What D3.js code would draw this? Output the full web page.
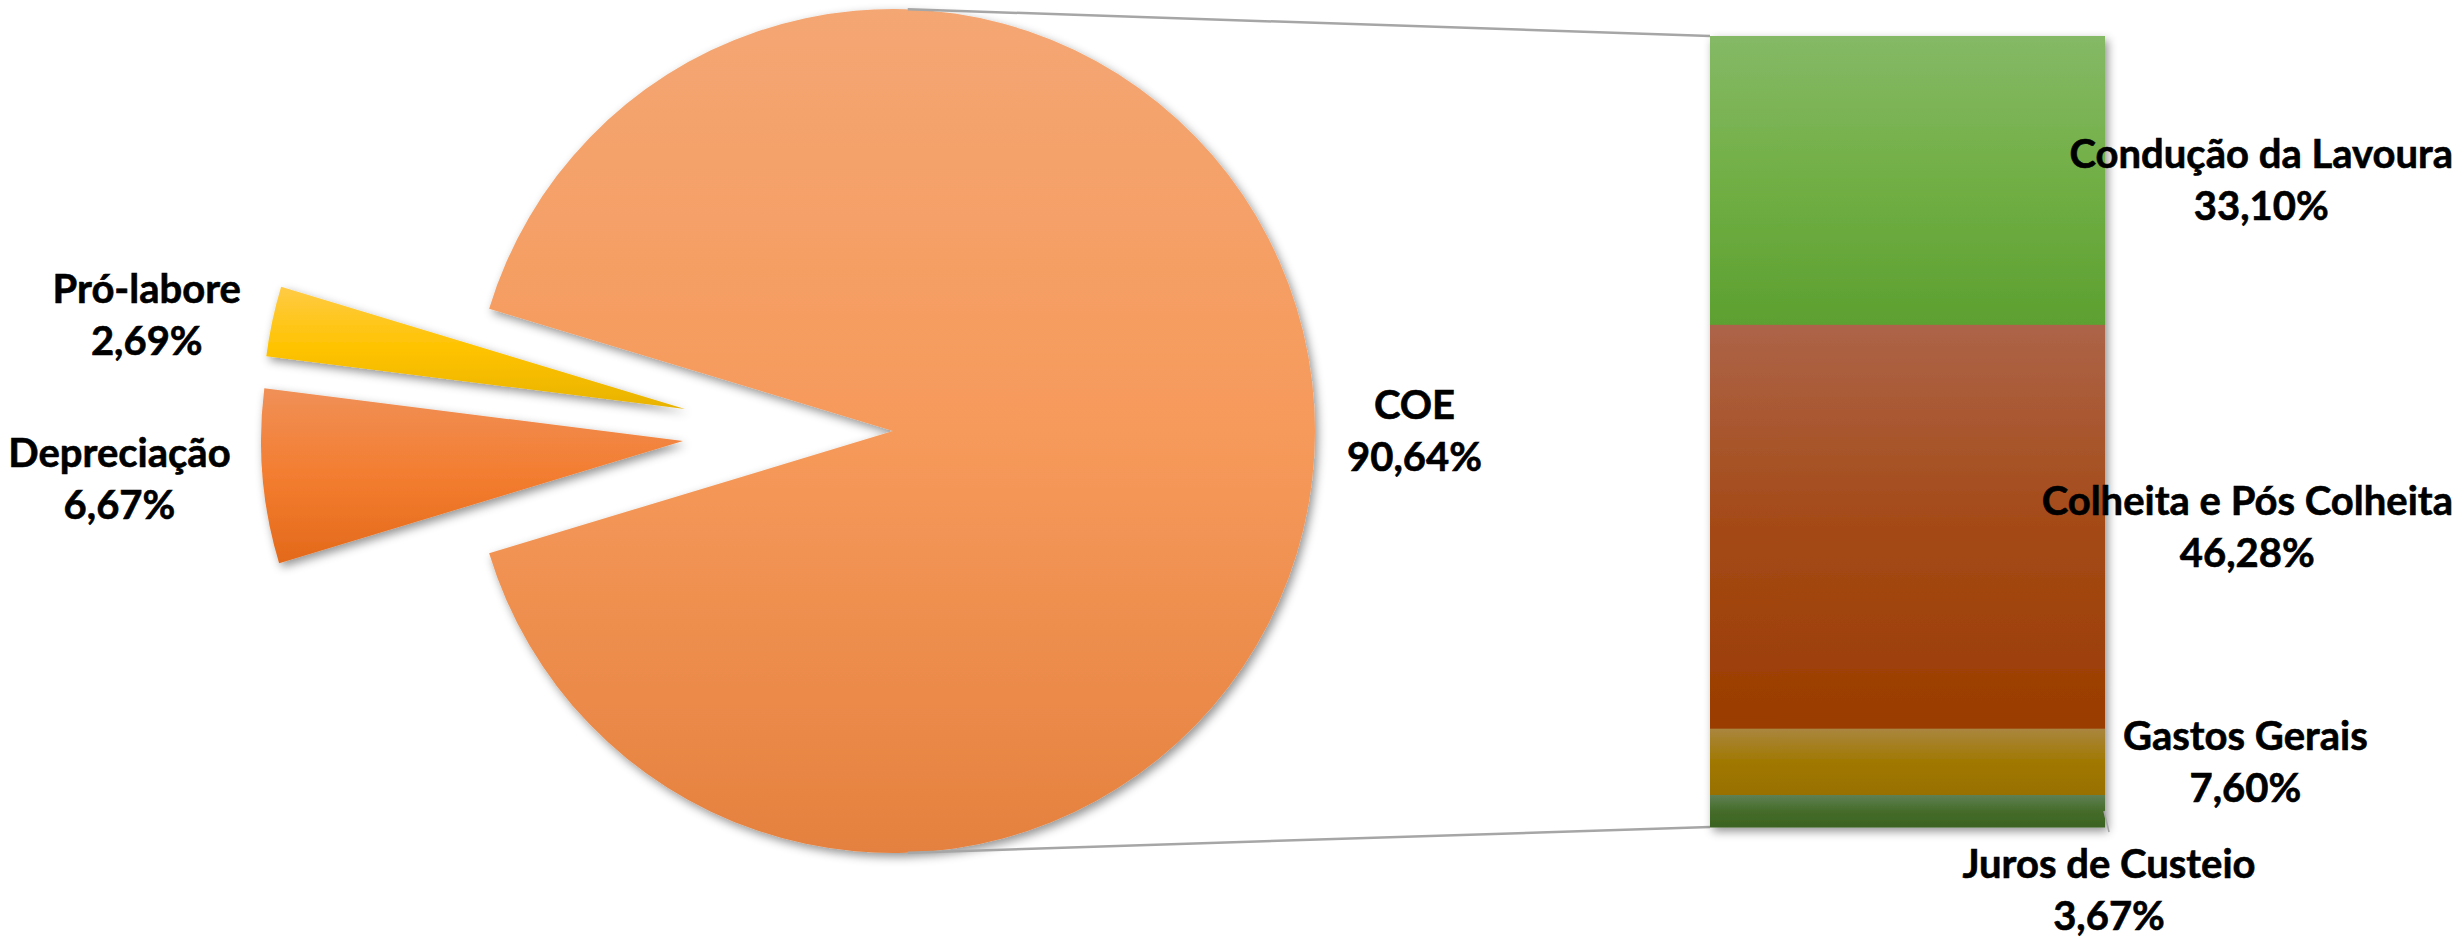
<!DOCTYPE html>
<html>
<head>
<meta charset="utf-8">
<script src="https://cdn.jsdelivr.net/npm/d3@7"></script>
<style>
  html, body { margin: 0; padding: 0; background: #ffffff; overflow: hidden; }
  svg { display: block; }
</style>
</head>
<body>
<svg id="chart" width="2458" height="939"></svg>
<script>
// ---------------- DATA ----------------
const pieCategories = ["COE", "Depreciação", "Pró-labore"];
const pieValues = [90.64, 6.67, 2.69];
const barCategories = ["Condução da Lavoura", "Colheita e Pós Colheita", "Gastos Gerais", "Juros de Custeio"];
const barValues = [33.10, 46.28, 7.60, 3.67];

// ---------------- STYLE / LAYOUT ----------------
const W = 2458, H = 939;
const pieGeom = { cx: 893, cy: 431, r: 422 };
const barGeom = { x0: 1710, x1: 2105, y0: 36, y1: 827 };
const explodeOffsets = { "Pró-labore": [-208, -22], "Depreciação": [-210, 10] };
const pieGradients = {
  "COE":         ["#F4A673", "#F69A5B", "#E5813F"],
  "Depreciação": ["#F09058", "#F37D30", "#E3691A"],
  "Pró-labore":  ["#FFCB45", "#FFC300", "#E8B300"]
};
const barGradients = {
  "Condução da Lavoura":     ["#85B966", "#71AF45", "#5DA030"],
  "Colheita e Pós Colheita": ["#AD6448", "#A44A17", "#9A3C00"],
  "Gastos Gerais":           ["#AA863F", "#A07800", "#987000"],
  "Juros de Custeio":        ["#5F8053", "#456C2A", "#3B6220"]
};
const belowBarLabels = ["Juros de Custeio"];
const connectorColor = "#A6A6A6";
const fontFamily = "Lato, 'Open Sans', 'Liberation Sans', sans-serif";
const fontSize = 40;
const lineH = 52;
const capH = 28;
const labelGap = 32;     // distance between pie edge and label box
const barLabelGap = 18;  // distance between bar edge and label box
const rightLimit = 2453;

const fmtLocale = d3.formatLocale({ decimal: ",", thousands: ".", grouping: [3], currency: ["R$", ""] });
const fmtPct = v => fmtLocale.format(".2f")(v) + "%";

// ---------------- SVG ----------------
const svg = d3.select("#chart").attr("viewBox", `0 0 ${W} ${H}`);
svg.append("rect").attr("width", W).attr("height", H).attr("fill", "#ffffff");
const defs = svg.append("defs");

const shadow = defs.append("filter").attr("id", "shadow")
  .attr("x", "-10%").attr("y", "-10%").attr("width", "125%").attr("height", "125%");
shadow.append("feDropShadow").attr("dx", 3).attr("dy", 4).attr("stdDeviation", 5)
  .attr("flood-color", "#000").attr("flood-opacity", 0.42);

function makeGradient(id, stops) {
  const g = defs.append("linearGradient").attr("id", id)
    .attr("x1", 0).attr("y1", 0).attr("x2", 0).attr("y2", 1);
  [0, 0.5, 1].forEach((o, i) => g.append("stop").attr("offset", o).attr("stop-color", stops[i]));
}
pieCategories.forEach((c, i) => makeGradient("pg" + i, pieGradients[c]));
barCategories.forEach((c, i) => makeGradient("bg" + i, barGradients[c]));

// ---------------- PIE ----------------
const pieData = pieCategories.map((c, i) => ({ cat: c, v: pieValues[i], i }));
const total = d3.sum(pieValues);
const firstFrac = pieValues[0] / total;
const start = Math.PI / 2 - firstFrac * Math.PI;
const pie = d3.pie().sort(null).value(d => d.v).startAngle(start).endAngle(start + 2 * Math.PI);
const arcs = pie(pieData);
const arc = d3.arc().innerRadius(0).outerRadius(pieGeom.r);

const pieG = svg.append("g").attr("transform", `translate(${pieGeom.cx},${pieGeom.cy})`);

// connector lines (from the COE slice to the bar)
const connA = 2 * Math.PI / 180;
const yScale = d3.scaleLinear().domain([0, d3.sum(barValues)]).range([barGeom.y0, barGeom.y1]);
const connG = svg.append("g");
[[connA, barGeom.y0], [Math.PI - connA, barGeom.y1]].forEach(([a, by]) => {
  connG.append("line")
    .attr("x1", pieGeom.cx + pieGeom.r * Math.sin(a))
    .attr("y1", pieGeom.cy - pieGeom.r * Math.cos(a))
    .attr("x2", barGeom.x0).attr("y2", by)
    .attr("stroke", connectorColor).attr("stroke-width", 2.5);
});

const sliceG = pieG.selectAll("g.slice").data(arcs).join("g")
  .attr("class", "slice")
  .attr("transform", d => {
    const o = explodeOffsets[d.data.cat] || [0, 0];
    return `translate(${o[0]},${o[1]})`;
  });
sliceG.append("path")
  .attr("d", arc)
  .attr("fill", d => `url(#pg${d.data.i})`)
  .attr("filter", "url(#shadow)");

// ---------------- BAR ----------------
let cum = 0;
const barData = barCategories.map((c, i) => {
  const d = { cat: c, v: barValues[i], i, y0: cum, y1: cum + barValues[i] };
  cum += barValues[i];
  return d;
});
const barG = svg.append("g").attr("filter", "url(#shadow)");
barG.selectAll("rect").data(barData).join("rect")
  .attr("x", barGeom.x0)
  .attr("width", barGeom.x1 - barGeom.x0)
  .attr("y", d => yScale(d.y0))
  .attr("height", d => yScale(d.y1) - yScale(d.y0) + 0.5)
  .attr("fill", d => `url(#bg${d.i})`);

// ---------------- LABELS ----------------
const labelG = svg.append("g")
  .attr("font-family", fontFamily)
  .attr("font-weight", "bold")
  .attr("font-size", fontSize)
  .attr("fill", "#000")
  .attr("stroke", "#000")
  .attr("stroke-width", 0.6);

function twoLineLabel(l1, l2) {
  const t = labelG.append("text").attr("text-anchor", "middle");
  const a = t.append("tspan").text(l1);
  const b = t.append("tspan").text(l2);
  const w = Math.max(a.node().getComputedTextLength(), b.node().getComputedTextLength());
  return {
    w,
    place(cx, cy) {
      const base1 = cy - (lineH - capH) / 2;
      a.attr("x", cx).attr("y", base1);
      b.attr("x", cx).attr("y", base1 + lineH);
    }
  };
}

arcs.forEach(d => {
  const o = explodeOffsets[d.data.cat] || [0, 0];
  const m = (d.startAngle + d.endAngle) / 2;
  const dx = Math.sin(m), dy = -Math.cos(m);
  const lab = twoLineLabel(d.data.cat, fmtPct(d.data.v));
  const ax = pieGeom.cx + o[0] + dx * (pieGeom.r + labelGap);
  const ay = pieGeom.cy + o[1] + dy * (pieGeom.r + labelGap);
  lab.place(ax + Math.sign(dx) * lab.w / 2, ay);
});

barData.forEach(d => {
  const lab = twoLineLabel(d.cat, fmtPct(d.v));
  const midY = (yScale(d.y0) + yScale(d.y1)) / 2;
  if (belowBarLabels.includes(d.cat)) {
    const cx = barGeom.x1 + 4;
    const cy = barGeom.y1 + 63;
    lab.place(cx, cy);
    svg.append("line")
      .attr("x1", barGeom.x1 - 1).attr("y1", midY)
      .attr("x2", cx).attr("y2", cy - (lineH + capH) / 2 - 18)
      .attr("stroke", connectorColor).attr("stroke-width", 1.5);
  } else {
    let left = barGeom.x1 + barLabelGap;
    if (left + lab.w > rightLimit) left = rightLimit - lab.w;
    lab.place(left + lab.w / 2, midY);
  }
});
</script>
</body>
</html>
